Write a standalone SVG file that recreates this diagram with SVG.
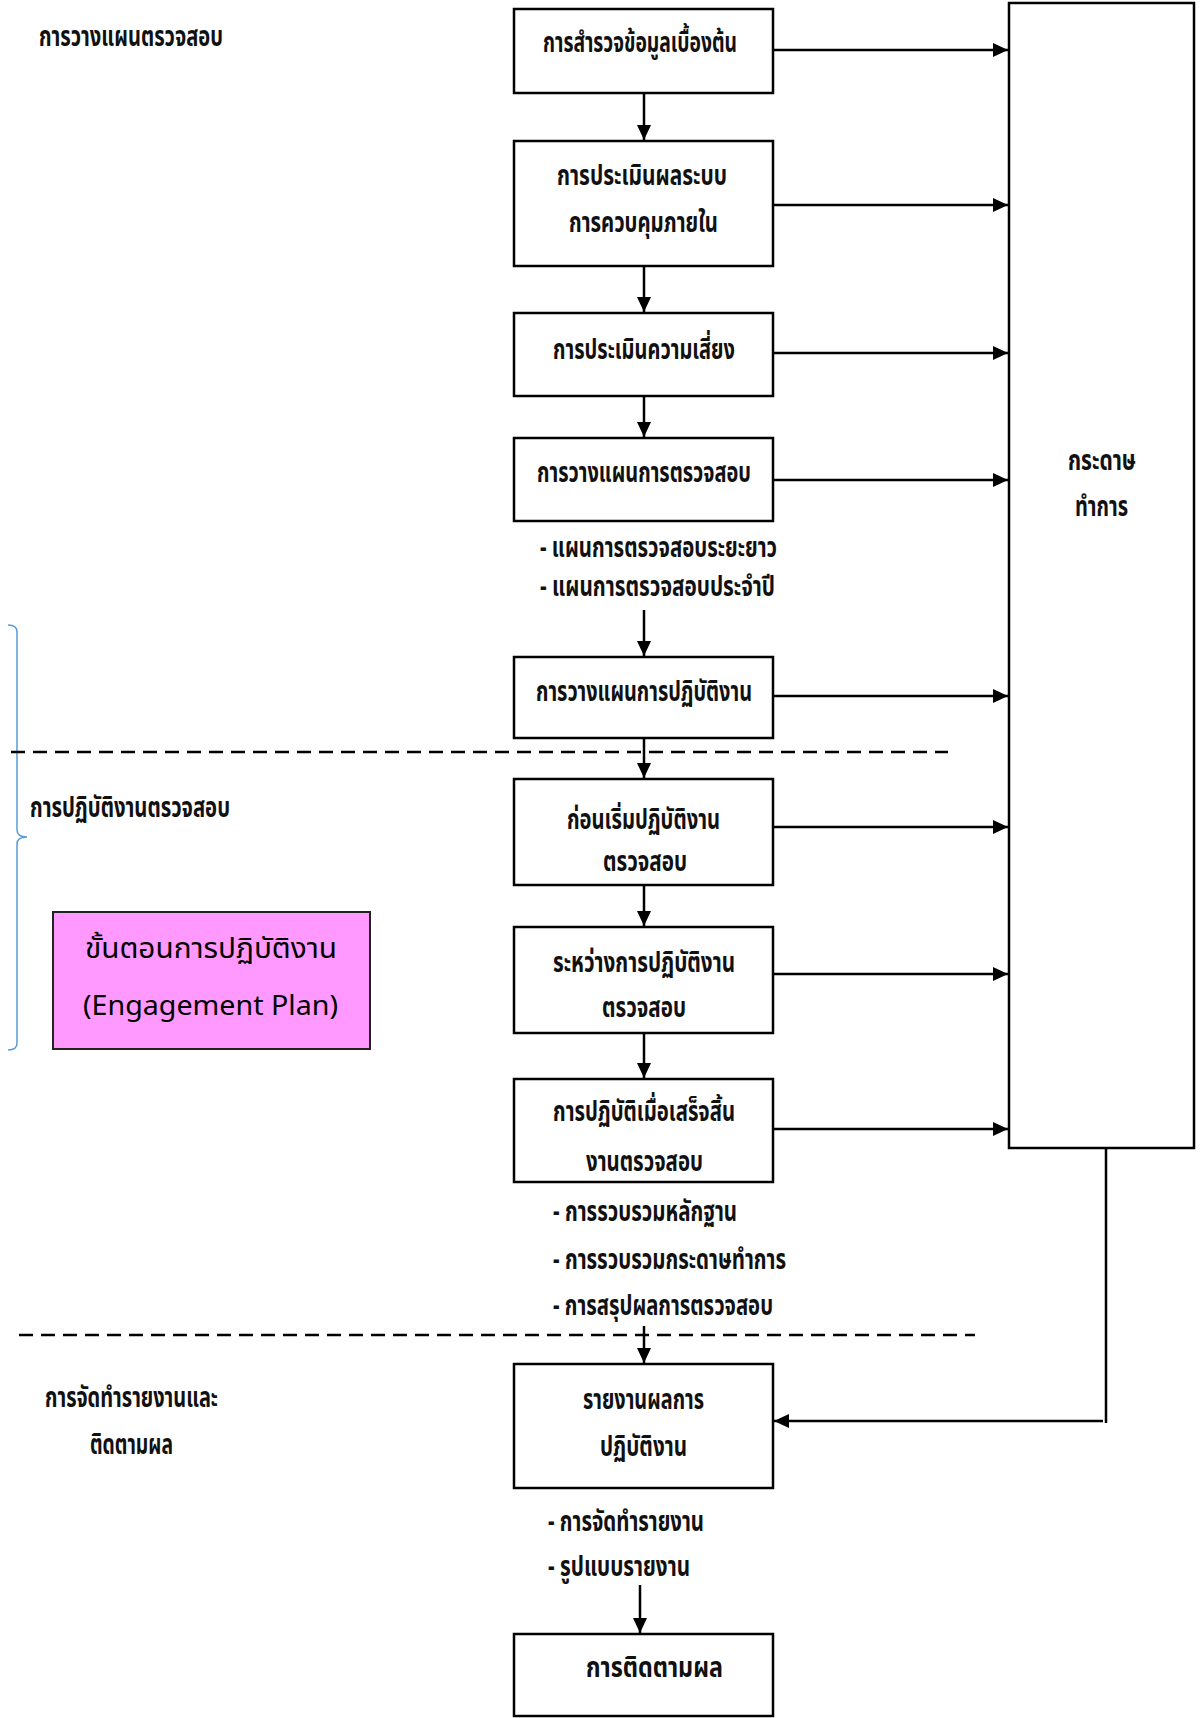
<svg xmlns="http://www.w3.org/2000/svg" width="1200" height="1718" viewBox="0 0 1200 1718">
<style>
.box{fill:#fff;stroke:#000;stroke-width:2.5}
.t{font-family:"Noto Sans Thai","Noto Sans","Noto Sans CJK SC",sans-serif;font-weight:bold;font-size:28px;fill:#111}
.c{stroke:#000;stroke-width:2.5;fill:none}
.d{stroke:#000;stroke-width:2.5;fill:none;stroke-dasharray:14 8}
.p{font-family:"Noto Sans Thai","Noto Sans","Noto Sans CJK SC",sans-serif;font-size:28px;fill:#000}
</style>
<defs>
<marker id="ah" markerUnits="userSpaceOnUse" markerWidth="16" markerHeight="14" refX="15" refY="7" orient="auto">
<path d="M0,0 L15,7 L0,14 z" fill="#000"/>
</marker>
</defs>
<rect width="1200" height="1718" fill="#fff"/>

<g id="labels">
<text class="t" x="39" y="46" textLength="184" lengthAdjust="spacingAndGlyphs">การวางแผนตรวจสอบ</text>
<text class="t" x="30" y="817" textLength="200" lengthAdjust="spacingAndGlyphs">การปฏิบัติงานตรวจสอบ</text>
<text class="t" x="45" y="1407" textLength="173" lengthAdjust="spacingAndGlyphs">การจัดทำรายงานและ</text>
<text class="t" x="90" y="1454" textLength="83" lengthAdjust="spacingAndGlyphs">ติดตามผล</text>
</g>

<g id="bracket">
<path d="M8,625 Q17,625 17,632 L17,830 Q17,837 27,837 Q17,837 17,844 L17,1043 Q17,1050 8,1050" fill="none" stroke="#5b9bd5" stroke-width="1.5"/>
</g>

<g id="engagement-plan">
<rect x="53" y="912" width="317" height="137" fill="#ff99ff" stroke="#222" stroke-width="2"/>
<text class="p" x="85" y="958" textLength="252" lengthAdjust="spacingAndGlyphs">ขั้นตอนการปฏิบัติงาน</text>
<text class="p" x="83" y="1015" textLength="255" lengthAdjust="spacingAndGlyphs">(Engagement Plan)</text>
</g>

<g id="n1"><rect class="box" x="514" y="9" width="259" height="84"/>
<text class="t" x="543" y="52" textLength="194" lengthAdjust="spacingAndGlyphs">การสำรวจข้อมูลเบื้องต้น</text></g>
<g id="n2"><rect class="box" x="514" y="141" width="259" height="125"/>
<text class="t" x="557" y="185" textLength="170" lengthAdjust="spacingAndGlyphs">การประเมินผลระบบ</text>
<text class="t" x="569" y="232" textLength="149" lengthAdjust="spacingAndGlyphs">การควบคุมภายใน</text></g>
<g id="n3"><rect class="box" x="514" y="313" width="259" height="83"/>
<text class="t" x="553" y="359" textLength="182" lengthAdjust="spacingAndGlyphs">การประเมินความเสี่ยง</text></g>
<g id="n4"><rect class="box" x="514" y="438" width="259" height="83"/>
<text class="t" x="537" y="482" textLength="214" lengthAdjust="spacingAndGlyphs">การวางแผนการตรวจสอบ</text>
<text class="t" x="540" y="557" textLength="237" lengthAdjust="spacingAndGlyphs">- แผนการตรวจสอบระยะยาว</text>
<text class="t" x="540" y="596" textLength="235" lengthAdjust="spacingAndGlyphs">- แผนการตรวจสอบประจำปี</text></g>
<g id="n5"><rect class="box" x="514" y="657" width="259" height="81"/>
<text class="t" x="536" y="701" textLength="216" lengthAdjust="spacingAndGlyphs">การวางแผนการปฏิบัติงาน</text></g>
<g id="n6"><rect class="box" x="514" y="779" width="259" height="106"/>
<text class="t" x="567" y="829" textLength="153" lengthAdjust="spacingAndGlyphs">ก่อนเริ่มปฏิบัติงาน</text>
<text class="t" x="603" y="871" textLength="84" lengthAdjust="spacingAndGlyphs">ตรวจสอบ</text></g>
<g id="n7"><rect class="box" x="514" y="927" width="259" height="106"/>
<text class="t" x="553" y="972" textLength="182" lengthAdjust="spacingAndGlyphs">ระหว่างการปฏิบัติงาน</text>
<text class="t" x="602" y="1017" textLength="84" lengthAdjust="spacingAndGlyphs">ตรวจสอบ</text></g>
<g id="n8"><rect class="box" x="514" y="1079" width="259" height="103"/>
<text class="t" x="553" y="1121" textLength="182" lengthAdjust="spacingAndGlyphs">การปฏิบัติเมื่อเสร็จสิ้น</text>
<text class="t" x="586" y="1171" textLength="117" lengthAdjust="spacingAndGlyphs">งานตรวจสอบ</text>
<text class="t" x="553" y="1221" textLength="184" lengthAdjust="spacingAndGlyphs">- การรวบรวมหลักฐาน</text>
<text class="t" x="553" y="1269" textLength="233" lengthAdjust="spacingAndGlyphs">- การรวบรวมกระดาษทำการ</text>
<text class="t" x="553" y="1315" textLength="220" lengthAdjust="spacingAndGlyphs">- การสรุปผลการตรวจสอบ</text></g>
<g id="n9"><rect class="box" x="514" y="1364" width="259" height="124"/>
<text class="t" x="583" y="1409" textLength="121" lengthAdjust="spacingAndGlyphs">รายงานผลการ</text>
<text class="t" x="600" y="1456" textLength="87" lengthAdjust="spacingAndGlyphs">ปฏิบัติงาน</text>
<text class="t" x="548" y="1531" textLength="156" lengthAdjust="spacingAndGlyphs">- การจัดทำรายงาน</text>
<text class="t" x="548" y="1576" textLength="142" lengthAdjust="spacingAndGlyphs">- รูปแบบรายงาน</text></g>
<g id="n10"><rect class="box" x="514" y="1634" width="259" height="82"/>
<text class="t" x="586" y="1677" textLength="137" lengthAdjust="spacingAndGlyphs">การติดตามผล</text></g>
<g id="working-papers"><rect class="box" x="1009" y="3" width="185" height="1145"/>
<text class="t" x="1068" y="470" textLength="68" lengthAdjust="spacingAndGlyphs">กระดาษ</text>
<text class="t" x="1075" y="516" textLength="53" lengthAdjust="spacingAndGlyphs">ทำการ</text></g>

<g id="separators">
<line class="d" x1="11" y1="752" x2="948" y2="752"/>
<line class="d" x1="19" y1="1335" x2="975" y2="1335"/>
</g>

<g id="connectors">
<line class="c" x1="644" y1="93" x2="644" y2="140" marker-end="url(#ah)"/>
<line class="c" x1="644" y1="266" x2="644" y2="312" marker-end="url(#ah)"/>
<line class="c" x1="644" y1="396" x2="644" y2="437" marker-end="url(#ah)"/>
<line class="c" x1="644" y1="610" x2="644" y2="656" marker-end="url(#ah)"/>
<line class="c" x1="644" y1="738" x2="644" y2="778" marker-end="url(#ah)"/>
<line class="c" x1="644" y1="885" x2="644" y2="926" marker-end="url(#ah)"/>
<line class="c" x1="644" y1="1033" x2="644" y2="1078" marker-end="url(#ah)"/>
<line class="c" x1="644" y1="1326" x2="644" y2="1363" marker-end="url(#ah)"/>
<line class="c" x1="640" y1="1585" x2="640" y2="1633" marker-end="url(#ah)"/>
<line class="c" x1="773" y1="50" x2="1008" y2="50" marker-end="url(#ah)"/>
<line class="c" x1="773" y1="205" x2="1008" y2="205" marker-end="url(#ah)"/>
<line class="c" x1="773" y1="353" x2="1008" y2="353" marker-end="url(#ah)"/>
<line class="c" x1="773" y1="480" x2="1008" y2="480" marker-end="url(#ah)"/>
<line class="c" x1="773" y1="696" x2="1008" y2="696" marker-end="url(#ah)"/>
<line class="c" x1="773" y1="827" x2="1008" y2="827" marker-end="url(#ah)"/>
<line class="c" x1="773" y1="974" x2="1008" y2="974" marker-end="url(#ah)"/>
<line class="c" x1="773" y1="1129" x2="1008" y2="1129" marker-end="url(#ah)"/>
<polyline class="c" points="1106,1148 1106,1423"/>
<line class="c" x1="1103" y1="1421" x2="774" y2="1421" marker-end="url(#ah)"/>
</g>
</svg>
